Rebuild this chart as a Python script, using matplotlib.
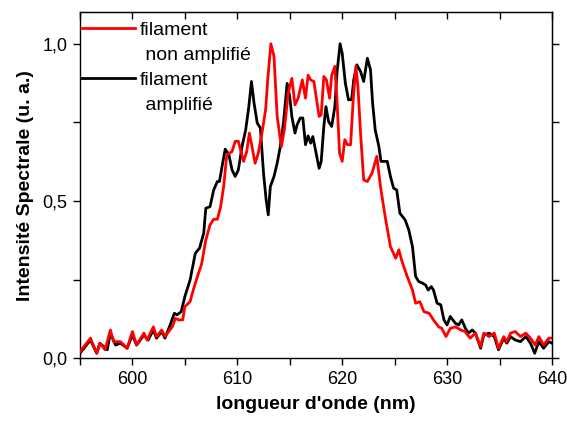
import matplotlib
matplotlib.use("Agg")
import matplotlib.pyplot as plt
from matplotlib.lines import Line2D
from matplotlib.ticker import MultipleLocator, FuncFormatter

plt.rcParams['font.family'] = ['Liberation Sans', 'DejaVu Sans']

# filament non amplifié (red)
wl_red = [595.0, 596.0, 596.6, 596.9, 597.4, 597.9, 598.2, 598.85, 599.5, 600.0,
          600.4, 601.1, 601.4, 602.0, 602.3, 602.8, 603.1, 603.8, 604.1, 604.4,
          604.8, 605.0, 605.5, 605.8, 606.2, 606.6, 607.0, 607.4, 607.75, 608.1,
          608.4, 608.7, 609.0, 609.5, 609.8, 610.1, 610.6, 610.9, 611.15, 611.4,
          611.7, 612.0, 612.4, 612.7, 612.9, 613.2, 613.5, 613.8, 614.2, 614.5,
          614.85, 615.2, 615.5, 615.8, 616.2, 616.5, 616.75, 617.0, 617.3, 617.8,
          618.0, 618.25, 618.5, 618.8, 619.0, 619.3, 619.5, 619.75, 620.0, 620.25,
          620.5, 620.8, 621.05, 621.3, 621.5, 621.75, 622.05, 622.4, 622.85, 623.3,
          623.65, 624.1, 624.6, 625.1, 625.4, 625.7, 626.2, 626.7, 627.0, 627.4,
          627.8, 628.3, 628.7, 629.2, 629.5, 629.9, 630.3, 630.8, 631.3, 631.7,
          632.2, 632.7, 633.2, 633.5, 634.0, 634.5, 634.9, 635.4, 635.7, 636.05,
          636.5, 637.0, 637.5, 637.95, 638.4, 638.75, 639.2, 639.7, 640.0]
int_red = [0.021, 0.064, 0.016, 0.048, 0.027, 0.090, 0.053, 0.053, 0.032, 0.085,
           0.042, 0.080, 0.058, 0.100, 0.069, 0.090, 0.069, 0.100, 0.127, 0.122,
           0.122, 0.164, 0.180, 0.217, 0.260, 0.300, 0.376, 0.424, 0.442, 0.442,
           0.480, 0.546, 0.647, 0.657, 0.690, 0.690, 0.626, 0.657, 0.716, 0.673,
           0.620, 0.652, 0.726, 0.790, 0.885, 1.000, 0.960, 0.769, 0.673, 0.730,
           0.843, 0.890, 0.806, 0.827, 0.885, 0.827, 0.900, 0.885, 0.880, 0.769,
           0.774, 0.896, 0.885, 0.827, 0.900, 0.928, 0.822, 0.652, 0.626, 0.695,
           0.679, 0.679, 0.822, 0.928, 0.864, 0.716, 0.567, 0.562, 0.589, 0.642,
           0.546, 0.450, 0.355, 0.318, 0.345, 0.308, 0.260, 0.217, 0.175, 0.180,
           0.148, 0.143, 0.122, 0.100, 0.095, 0.069, 0.095, 0.100, 0.090, 0.085,
           0.064, 0.080, 0.037, 0.080, 0.069, 0.080, 0.032, 0.069, 0.053, 0.080,
           0.085, 0.069, 0.080, 0.064, 0.042, 0.069, 0.042, 0.064, 0.064]

# filament amplifié (black)
wl_blk = [595.0, 596.0, 596.6, 596.9, 597.6, 597.9, 598.4, 598.85, 599.5, 600.0,
          600.4, 601.1, 601.5, 602.0, 602.3, 602.8, 603.1, 603.6, 604.0, 604.25,
          604.65, 605.0, 605.5, 606.0, 606.4, 606.8, 607.0, 607.4, 607.75, 608.1,
          608.3, 608.55, 608.85, 609.2, 609.5, 609.8, 610.1, 610.45, 610.8, 611.1,
          611.35, 611.6, 611.9, 612.2, 612.5, 612.75, 612.95, 613.15, 613.5, 613.8,
          614.1, 614.4, 614.75, 615.0, 615.2, 615.5, 615.7, 616.0, 616.25, 616.5,
          616.75, 617.0, 617.2, 617.45, 617.8, 618.0, 618.25, 618.45, 618.7, 619.0,
          619.3, 619.5, 619.8, 620.0, 620.3, 620.6, 620.9, 621.1, 621.4, 621.75,
          622.05, 622.4, 622.7, 622.9, 623.15, 623.5, 623.7, 624.3, 624.6, 624.9,
          625.2, 625.5, 626.0, 626.35, 626.7, 627.0, 627.3, 627.65, 627.95, 628.2,
          628.5, 628.7, 629.05, 629.4, 629.7, 630.0, 630.3, 630.8, 631.1, 631.4,
          631.75, 632.05, 632.4, 632.7, 633.2, 633.5, 634.0, 634.5, 634.9, 635.4,
          635.7, 636.05, 636.5, 637.0, 637.5, 637.95, 638.35, 638.75, 639.2, 639.7,
          640.0]
int_blk = [0.016, 0.058, 0.016, 0.048, 0.027, 0.080, 0.042, 0.048, 0.032, 0.074,
           0.042, 0.074, 0.058, 0.090, 0.064, 0.085, 0.064, 0.106, 0.143, 0.138,
           0.148, 0.196, 0.249, 0.334, 0.350, 0.398, 0.477, 0.482, 0.535, 0.562,
           0.562, 0.610, 0.665, 0.647, 0.599, 0.578, 0.599, 0.673, 0.726, 0.800,
           0.880, 0.811, 0.748, 0.732, 0.589, 0.504, 0.456, 0.546, 0.578, 0.620,
           0.673, 0.748, 0.874, 0.832, 0.769, 0.716, 0.742, 0.764, 0.764, 0.679,
           0.707, 0.684, 0.705, 0.663, 0.604, 0.626, 0.737, 0.800, 0.753, 0.737,
           0.800, 0.907, 1.000, 0.970, 0.875, 0.822, 0.822, 0.885, 0.933, 0.912,
           0.880, 0.954, 0.917, 0.811, 0.726, 0.673, 0.626, 0.626, 0.578, 0.541,
           0.535, 0.461, 0.440, 0.408, 0.355, 0.260, 0.244, 0.239, 0.233, 0.217,
           0.228, 0.217, 0.175, 0.170, 0.122, 0.106, 0.133, 0.111, 0.106, 0.122,
           0.095, 0.080, 0.090, 0.080, 0.032, 0.074, 0.080, 0.069, 0.027, 0.064,
           0.048, 0.069, 0.058, 0.053, 0.069, 0.048, 0.016, 0.053, 0.032, 0.053,
           0.048]

labels_red = ["filament", " non amplifié"]
labels_blk = ["filament", " amplifié"]
x_label = "longueur d'onde (nm)"
y_label = "Intensité Spectrale (u. a.)"

fig = plt.figure(figsize=(5.67, 4.24), dpi=100)
ax = fig.add_axes([0.141, 0.155, 0.8325, 0.816])

ax.plot(wl_blk, int_blk, color='black', lw=2.0, zorder=2)
ax.plot(wl_red, int_red, color='#ff0000', lw=2.0, zorder=3)

ax.set_xlim(595, 640)
ax.set_ylim(0, 1.1)
ax.xaxis.set_major_locator(MultipleLocator(10))
ax.xaxis.set_minor_locator(MultipleLocator(5))
ax.yaxis.set_major_locator(MultipleLocator(0.5))
ax.yaxis.set_minor_locator(MultipleLocator(0.25))
ax.yaxis.set_major_formatter(FuncFormatter(lambda v, p: f"{v:.1f}".replace('.', ',')))

ax.tick_params(axis='both', which='both', direction='out', length=5, width=1,
               labelsize=13, pad=4, top=False, right=False)
# mirrored ticks: top pointing inward, right pointing outward
sec_top = ax.secondary_xaxis('top')
sec_top.xaxis.set_major_locator(MultipleLocator(10))
sec_top.xaxis.set_minor_locator(MultipleLocator(5))
sec_top.tick_params(which='both', direction='in', length=5, width=1, labeltop=False)
sec_right = ax.secondary_yaxis('right')
sec_right.yaxis.set_major_locator(MultipleLocator(0.5))
sec_right.yaxis.set_minor_locator(MultipleLocator(0.25))
sec_right.tick_params(which='both', direction='out', length=5, width=1, labelright=False)
for sp in ax.spines.values():
    sp.set_linewidth(1.0)

ax.set_xlabel(x_label, fontsize=14, fontweight='bold', labelpad=6)
ax.set_ylabel(y_label, fontsize=14, fontweight='bold', labelpad=6)

# legend drawn manually (handle on the first line of each two-line label)
tr = ax.transAxes
for color, labels, y_handle, y_base in [('#ff0000', labels_red, 0.9555, 0.934),
                                        ('black', labels_blk, 0.809, 0.7895)]:
    ax.add_line(Line2D([0.004, 0.117], [y_handle, y_handle], transform=tr,
                       color=color, lw=2.0, clip_on=False, zorder=5))
    ax.text(0.127, y_base, labels[0], transform=tr, fontsize=14,
            va='baseline', ha='left', zorder=5)
    ax.text(0.127, y_base - 0.0723, labels[1], transform=tr, fontsize=14,
            va='baseline', ha='left', zorder=5)

fig.savefig("out.png", dpi=100)
